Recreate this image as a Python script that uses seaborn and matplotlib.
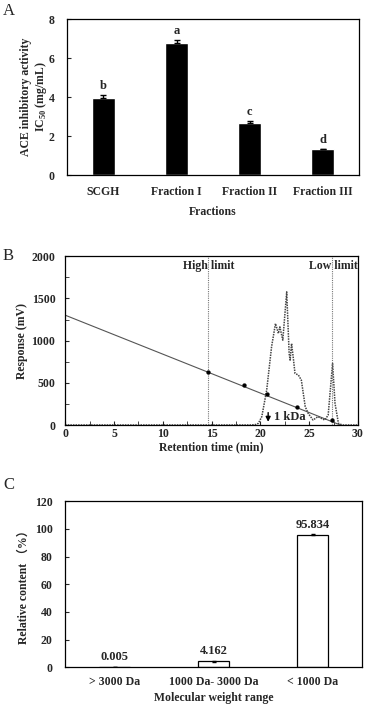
import numpy as np
import pandas as pd
import matplotlib
matplotlib.use("Agg")
import matplotlib.pyplot as plt
import seaborn as sns

# panel A: ACE inhibitory activity
frac_names = ["SCGH", "Fraction I", "Fraction II", "Fraction III"]
ic50 = [3.97, 6.79, 2.65, 1.32]
ic50_err = [0.15, 0.16, 0.12, 0.03]
sig_letters = ["b", "a", "c", "d"]

# panel B: gel filtration chromatogram + calibration line
chrom_time = [0, 5, 10, 15, 19.0, 19.5, 19.8, 20.15, 20.65, 21.15, 21.55, 21.85, 22.0,
              22.3, 22.7, 22.95, 23.05, 23.2, 23.4, 23.55, 23.9, 24.2, 24.6, 24.9,
              25.4, 25.9, 26.6, 26.95, 27.4, 27.65, 28.0, 28.4, 30]
chrom_resp = [0, 0, 0, 0, 0, 5, 20, 100, 414, 927, 1203, 1085, 1163,
              1006, 1578, 848, 769, 967, 769, 612, 592, 532, 217, 138,
              59, 99, 59, 118, 730, 257, 20, 0, 0]
calib_time = [0, 28.2]
calib_resp = [1302, 0]
std_time = [14.68, 18.36, 20.72, 23.72, 27.3]
std_resp = [631, 469, 363, 217, 59]
high_limit = 14.68
low_limit = 27.3
kda_time = 20.8

# panel C: molecular weight distribution
mw_ranges = ["> 3000 Da", "1000 Da- 3000 Da", "< 1000 Da"]
content = [0.005, 4.162, 95.834]
content_err = [0.0, 0.08, 0.15]

sns.set_style("ticks")
plt.rcParams["font.family"] = ["Liberation Serif", "Noto Sans CJK SC"]
plt.rcParams["font.weight"] = "bold"
plt.rcParams["axes.labelweight"] = "bold"
plt.rcParams["font.size"] = 8.5
plt.rcParams["mathtext.fontset"] = "custom"
plt.rcParams["mathtext.rm"] = "Liberation Serif:bold"
plt.rcParams["mathtext.bf"] = "Liberation Serif:bold"
plt.rcParams["axes.linewidth"] = 0.9
plt.rcParams["axes.edgecolor"] = "black"

fig = plt.figure(figsize=(3.66, 7.06), dpi=100)
axA = fig.add_axes([0.183, 0.752, 0.798, 0.221])
axB = fig.add_axes([0.178, 0.398, 0.800, 0.239])
axC = fig.add_axes([0.178, 0.055, 0.811, 0.235])

for ax in (axA, axB, axC):
    for s in ax.spines.values():
        s.set_visible(True)
        s.set_color("black")

# ---- A
dfA = pd.DataFrame({"frac": frac_names, "ic50": ic50})
sns.barplot(data=dfA, x="frac", y="ic50", color="black", width=0.32,
            errorbar=None, ax=axA, saturation=1)
axA.errorbar(range(len(ic50)), ic50, yerr=[[0] * len(ic50), ic50_err], fmt="none",
             ecolor="black", elinewidth=1, capsize=2)
for i, (v, e, l) in enumerate(zip(ic50, ic50_err, sig_letters)):
    axA.annotate(l, (i, v + e), xytext=(0, 2), textcoords="offset points",
                 ha="center", va="bottom", fontsize=9, fontweight="bold")
axA.set_ylim(0, 8)
axA.set_xlim(-0.5, 3.5)
axA.set_yticks([0, 2, 4, 6, 8])
axA.tick_params(axis="y", direction="in", length=3, pad=9)
axA.tick_params(axis="x", length=0, pad=8)
axA.set_xlabel("Fractions", labelpad=5.4)
axA.set_ylabel("ACE inhibitory activity\nIC$_{50}$ (mg/mL)", linespacing=1.1)
axA.yaxis.set_label_coords(-0.062, 0.5)
fig.text(0.008, 0.985, "A", fontsize=12, fontweight="normal", va="center")

# ---- B
sns.lineplot(x=calib_time, y=calib_resp, ax=axB, color="#555555", lw=0.8)
sns.lineplot(x=chrom_time, y=chrom_resp, ax=axB, color="#444444", lw=1.1,
             linestyle=(0, (1, 0.7)))
sns.scatterplot(x=std_time, y=std_resp, ax=axB, color="black", s=8, edgecolor=None, zorder=5)
for t in (high_limit, low_limit):
    axB.axvline(t, color="#777777", lw=0.8, linestyle=(0, (1, 1)))
axB.text(high_limit, 1890, "High limit", ha="center", va="center")
axB.text(low_limit + 2.7, 1890, "Low limit", ha="right", va="center")
axB.annotate("", xy=(kda_time, 5), xytext=(kda_time, 180),
             arrowprops=dict(arrowstyle="-|>", color="black", lw=1, mutation_scale=7))
axB.text(kda_time + 0.6, 25, "1 kDa", ha="left", va="bottom", fontsize=9)
axB.set_xlim(0, 30)
axB.set_ylim(0, 2000)
axB.set_xticks(np.arange(0, 31, 5))
axB.set_xticks(np.arange(0, 31, 2.5), minor=True)
axB.set_yticks(np.arange(0, 2001, 500))
axB.set_yticks(np.arange(0, 2001, 250), minor=True)
axB.tick_params(which="both", direction="in", length=3)
axB.tick_params(axis="y", pad=7)
axB.tick_params(axis="x", pad=2.5)
axB.set_xlabel("Retention time (min)", labelpad=0.5)
axB.set_ylabel("Response (mV)")
axB.yaxis.set_label_coords(-0.126, 0.5)
fig.text(0.008, 0.638, "B", fontsize=12, fontweight="normal", va="center")

# ---- C
dfC = pd.DataFrame({"mw": mw_ranges, "content": content})
sns.barplot(data=dfC, x="mw", y="content", color="white", edgecolor="black",
            linewidth=0.9, width=0.32, errorbar=None, ax=axC, saturation=1)
axC.errorbar(range(len(content)), content, yerr=content_err, fmt="none",
             ecolor="black", elinewidth=0.8, capsize=1.5)
for i, v in enumerate(content):
    axC.annotate(f"{v:.3f}", (i, v), xytext=(0, 3), textcoords="offset points",
                 ha="center", va="bottom", fontsize=9)
axC.set_ylim(0, 120)
axC.set_xlim(-0.5, 2.5)
axC.set_yticks(np.arange(0, 121, 20))
axC.tick_params(axis="y", direction="in", length=3, pad=9)
axC.tick_params(axis="x", length=0, pad=6.5)
axC.set_xlabel("Molecular weight range", labelpad=3)
axC.set_ylabel("Relative content （%）")
axC.yaxis.set_label_coords(-0.118, 0.5)
fig.text(0.008, 1 - 485 / 706, "C", fontsize=12, fontweight="normal", va="center")

fig.savefig("out.png", dpi=100)
